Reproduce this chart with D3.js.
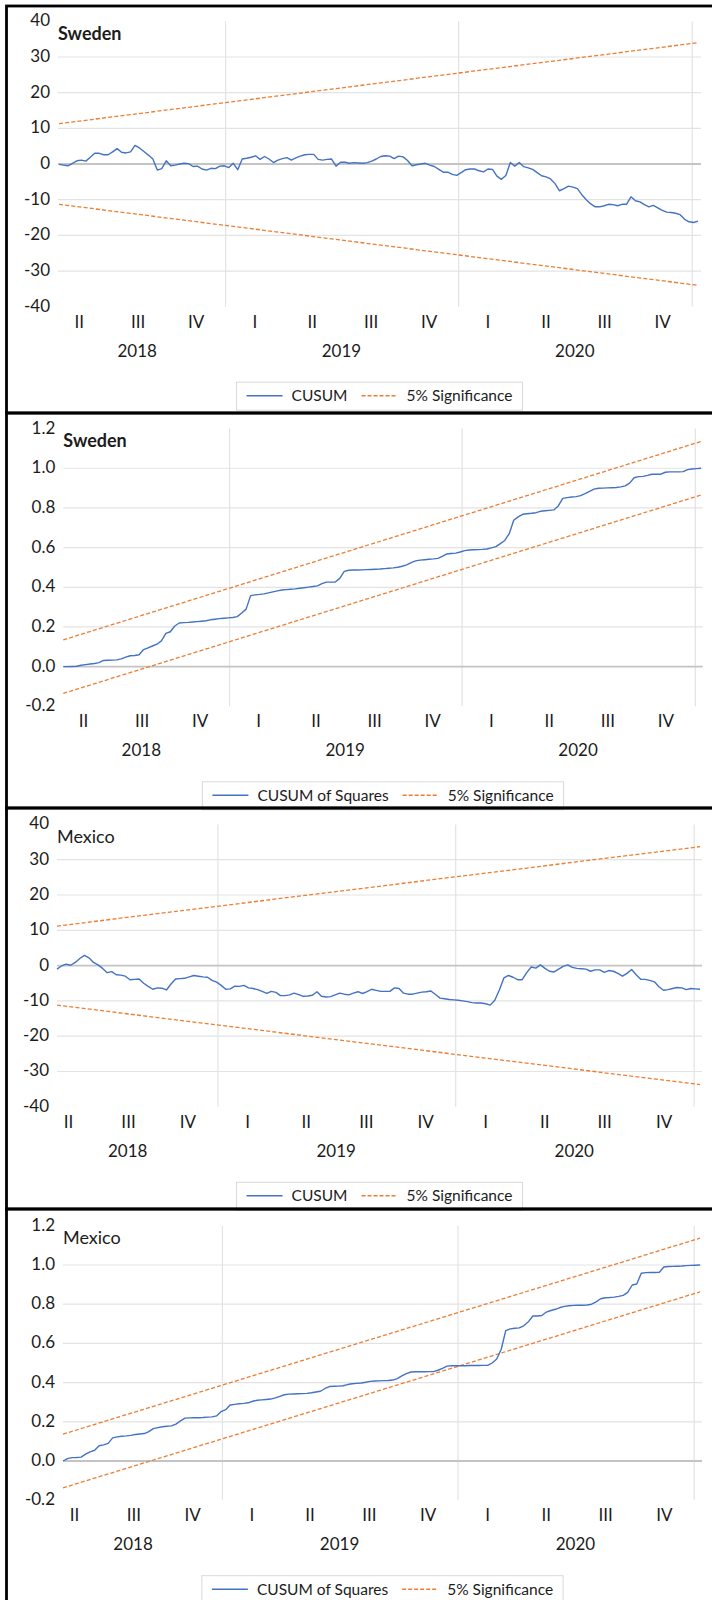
<!DOCTYPE html>
<html>
<head>
<meta charset="utf-8">
<script src="https://cdn.jsdelivr.net/npm/d3@7"></script>
<style>
  body { margin: 0; background: #fff; }
  svg { display: block; }
  text { font-family: Lato, "Open Sans", "Noto Sans", sans-serif; fill: #1c1c1c; }
</style>
</head>
<body>
<svg id="chart" width="712" height="1600"></svg>
<script>
// ---- Weekly recursive-residual stability tests, Sweden and Mexico ----

// First weekly observation of each country's sample
const swedenStart = "2018-04-15";
const mexicoStart = "2018-04-29";

// Quarter labels (placed mid-quarter) and year labels of the category axis
const quarterLabels = ["II", "III", "IV", "I", "II", "III", "IV", "I", "II", "III", "IV"];
const quarterDates = ["2018-05-16", "2018-08-16", "2018-11-15", "2019-02-15", "2019-05-16", "2019-08-16",
                      "2019-11-15", "2020-02-15", "2020-05-16", "2020-08-16", "2020-11-15"];
const yearLabels = ["2018", "2019", "2020"];
const yearBoundaries = ["2019-01-01", "2020-01-01", "2021-01-01"];

// Value-axis ticks
const cusumTicks = [40, 30, 20, 10, 0, -10, -20, -30, -40];
const cusumSqTicks = [1.2, 1.0, 0.8, 0.6, 0.4, 0.2, 0.0, -0.2];

// Sweden: CUSUM of recursive residuals
const swedenCusum = [
  -0.1, -0.3, -0.5, 0.2, 0.9, 1.1, 0.8, 1.9, 3.0, 3.0,
  2.6, 2.6, 3.4, 4.3, 3.3, 3.1, 3.4, 5.2, 4.5, 3.5,
  2.5, 1.4, -1.7, -1.3, 0.9, -0.5, -0.3, 0.0, 0.2, 0.1,
  -0.7, -0.6, -1.4, -1.7, -1.2, -1.3, -0.6, -0.5, -1.0, 0.2,
  -1.6, 1.4, 1.6, 1.9, 2.3, 1.3, 2.1, 1.4, 0.4, 1.1,
  1.5, 1.8, 1.1, 1.7, 2.2, 2.6, 2.7, 2.7, 1.3, 1.1,
  1.3, 1.4, -0.6, 0.5, 0.5, 0.2, 0.4, 0.3, 0.2, 0.4,
  0.8, 1.4, 2.1, 2.3, 2.2, 1.5, 2.2, 2.0, 1.0, -0.5,
  -0.2, 0.0, 0.2, -0.3, -0.7, -1.5, -2.3, -2.3, -2.9, -3.2,
  -2.4, -1.6, -1.4, -1.4, -1.9, -2.2, -1.4, -1.5, -3.4, -4.3,
  -3.2, 0.4, -0.6, 0.4, -0.75, -1.1, -1.5, -2.4, -3.3, -3.6,
  -4.2, -5.5, -7.5, -6.9, -6.2, -6.5, -6.9, -8.6, -10.0, -11.2,
  -12.0, -12.0, -11.7, -11.3, -11.4, -11.7, -11.3, -11.3, -9.2, -10.3,
  -10.6, -11.4, -12.0, -11.6, -12.3, -13.0, -13.5, -13.6, -13.8, -14.2,
  -15.5, -16.2, -16.4, -16.0
];
const swedenCusumUpper = [11.3, 34.0];
const swedenCusumLower = [-11.3, -34.0];

// Sweden: CUSUM of squares
const swedenCusumSq = [
  0.000, 0.000, 0.001, 0.002, 0.007, 0.010, 0.013, 0.016, 0.020, 0.031,
  0.032, 0.033, 0.034, 0.039, 0.048, 0.055, 0.056, 0.060, 0.086, 0.095,
  0.104, 0.113, 0.130, 0.168, 0.176, 0.205, 0.220, 0.222, 0.223, 0.225,
  0.227, 0.229, 0.231, 0.236, 0.239, 0.242, 0.244, 0.246, 0.248, 0.252,
  0.270, 0.290, 0.358, 0.362, 0.364, 0.367, 0.372, 0.377, 0.382, 0.386,
  0.388, 0.390, 0.392, 0.395, 0.398, 0.401, 0.404, 0.407, 0.418, 0.426,
  0.426, 0.427, 0.445, 0.480, 0.486, 0.487, 0.487, 0.488, 0.489, 0.490,
  0.491, 0.492, 0.494, 0.496, 0.498, 0.501, 0.506, 0.513, 0.524, 0.533,
  0.537, 0.539, 0.541, 0.543, 0.546, 0.556, 0.568, 0.570, 0.572, 0.578,
  0.585, 0.588, 0.589, 0.590, 0.591, 0.593, 0.599, 0.605, 0.620, 0.636,
  0.670, 0.738, 0.755, 0.768, 0.771, 0.773, 0.776, 0.783, 0.786, 0.788,
  0.790, 0.810, 0.848, 0.852, 0.855, 0.857, 0.862, 0.872, 0.884, 0.895,
  0.899, 0.900, 0.901, 0.902, 0.903, 0.906, 0.911, 0.925, 0.952, 0.958,
  0.959, 0.964, 0.970, 0.970, 0.970, 0.980, 0.982, 0.982, 0.982, 0.983,
  0.993, 0.996, 0.998, 1.000
];
const swedenSqUpper = [0.135, 1.135];
const swedenSqLower = [-0.135, 0.865];

// Mexico: CUSUM of recursive residuals
const mexicoCusum = [
  -1.0, -0.1, 0.4, 0.1, 0.9, 2.0, 2.9, 2.2, 0.9, 0.2,
  -0.8, -2.0, -1.7, -2.6, -2.7, -3.0, -4.0, -3.9, -3.8, -5.0,
  -5.9, -6.7, -6.3, -6.4, -6.9, -5.2, -3.8, -3.7, -3.6, -3.2,
  -2.8, -3.0, -3.2, -3.3, -4.2, -4.7, -5.6, -6.7, -6.6, -5.8,
  -5.9, -5.6, -6.3, -6.5, -6.8, -7.3, -7.9, -7.3, -7.6, -8.5,
  -8.5, -8.3, -7.8, -8.2, -8.7, -8.6, -8.4, -7.4, -8.7, -8.9,
  -8.8, -8.3, -7.8, -8.1, -8.3, -7.8, -7.4, -7.9, -7.4, -6.7,
  -7.0, -7.3, -7.3, -7.3, -6.3, -6.5, -7.8, -8.1, -8.1, -7.8,
  -7.5, -7.4, -7.2, -8.2, -9.2, -9.4, -9.6, -9.7, -9.8, -10.0,
  -10.2, -10.5, -10.6, -10.6, -10.8, -11.2, -9.8, -6.9, -3.5, -2.8,
  -3.3, -4.0, -4.0, -2.0, -0.4, -0.7, 0.2, -0.8, -1.6, -1.8,
  -1.0, -0.2, 0.2, -0.5, -0.8, -0.9, -1.0, -1.6, -1.2, -1.2,
  -1.9, -1.4, -1.6, -2.2, -3.0, -2.2, -1.1, -2.6, -3.9, -3.9,
  -4.2, -4.6, -6.0, -7.0, -6.8, -6.5, -6.2, -6.3, -6.8, -6.5,
  -6.6, -6.7
];
const mexicoCusumUpper = [11.2, 33.7];
const mexicoCusumLower = [-11.2, -33.7];

// Mexico: CUSUM of squares
const mexicoCusumSq = [
  0.000, 0.012, 0.017, 0.018, 0.020, 0.035, 0.047, 0.055, 0.078, 0.082,
  0.090, 0.118, 0.123, 0.126, 0.128, 0.131, 0.135, 0.138, 0.140, 0.150,
  0.165, 0.170, 0.175, 0.177, 0.179, 0.188, 0.205, 0.219, 0.220, 0.221,
  0.221, 0.222, 0.224, 0.225, 0.230, 0.252, 0.262, 0.286, 0.289, 0.292,
  0.294, 0.297, 0.305, 0.310, 0.312, 0.314, 0.316, 0.322, 0.330, 0.338,
  0.341, 0.342, 0.343, 0.344, 0.345, 0.348, 0.352, 0.356, 0.370, 0.380,
  0.381, 0.382, 0.384, 0.390, 0.394, 0.396, 0.398, 0.402, 0.406, 0.408,
  0.409, 0.410, 0.411, 0.413, 0.420, 0.434, 0.446, 0.454, 0.455, 0.455,
  0.455, 0.456, 0.456, 0.463, 0.473, 0.484, 0.486, 0.486, 0.486, 0.486,
  0.487, 0.487, 0.487, 0.488, 0.488, 0.500, 0.520, 0.570, 0.665, 0.674,
  0.677, 0.679, 0.690, 0.710, 0.740, 0.740, 0.742, 0.760, 0.768, 0.774,
  0.783, 0.789, 0.792, 0.794, 0.795, 0.795, 0.796, 0.800, 0.812, 0.828,
  0.833, 0.834, 0.836, 0.840, 0.845, 0.860, 0.898, 0.903, 0.958, 0.961,
  0.962, 0.962, 0.963, 0.990, 0.992, 0.993, 0.994, 0.995, 0.997, 0.998,
  0.999, 1.000
];
const mexicoSqUpper = [0.137, 1.137];
const mexicoSqLower = [-0.137, 0.863];

// ---- Layout and styling ----
const COLORS = { series: "#4472c4", bound: "#ed7d31", grid: "#e3e3e3", zero: "#c4c4c4", frame: "#000" };
const FONT = { axis: 17, legend: 15.5, title: 18 };

const locale = d3.formatLocale({ decimal: ".", thousands: ",", grouping: [3], currency: ["", ""], minus: "-" });
const fmtInt = locale.format("d");
const fmtOne = locale.format(".1f");
const parseDate = d3.timeParse("%Y-%m-%d");

const panels = [
  { title: "Sweden", bold: true, start: swedenStart, values: swedenCusum,
    upper: swedenCusumUpper, lower: swedenCusumLower, ticks: cusumTicks, domain: [-40, 40], fmt: fmtInt,
    legend: ["CUSUM", "5% Significance"],
    frame: [6, 413], plotX: [58, 701], lineX: [59, 698], plotY: [21.3, 306.7] },
  { title: "Sweden", bold: true, start: swedenStart, values: swedenCusumSq,
    upper: swedenSqUpper, lower: swedenSqLower, ticks: cusumSqTicks, domain: [-0.2, 1.2], fmt: fmtOne,
    legend: ["CUSUM of Squares", "5% Significance"],
    frame: [413, 808], plotX: [63.3, 702.7], lineX: [63.3, 701], plotY: [428.6, 706.3] },
  { title: "Mexico", bold: false, start: mexicoStart, values: mexicoCusum,
    upper: mexicoCusumUpper, lower: mexicoCusumLower, ticks: cusumTicks, domain: [-40, 40], fmt: fmtInt,
    legend: ["CUSUM", "5% Significance"],
    frame: [808, 1209], plotX: [57, 702], lineX: [57, 700], plotY: [824.4, 1106.8] },
  { title: "Mexico", bold: false, start: mexicoStart, values: mexicoCusumSq,
    upper: mexicoSqUpper, lower: mexicoSqLower, ticks: cusumSqTicks, domain: [-0.2, 1.2], fmt: fmtOne,
    legend: ["CUSUM of Squares", "5% Significance"],
    frame: [1209, 1604], plotX: [63, 702], lineX: [63, 700], plotY: [1225.8, 1500.2] }
];

const svg = d3.select("#chart");
svg.append("rect").attr("width", 712).attr("height", 1600).attr("fill", "#fff");

panels.forEach(drawPanel);

function drawPanel(p) {
  const g = svg.append("g");
  const start = parseDate(p.start);
  const data = p.values.map((v, i) => ({ date: d3.timeWeek.offset(start, i), value: v }));
  const first = data[0].date, last = data[data.length - 1].date;

  const x = d3.scaleTime().domain([first, last]).range(p.lineX);
  const y = d3.scaleLinear().domain(p.domain).range([p.plotY[1], p.plotY[0]]);
  const [left, right] = p.plotX;
  const [top, bottom] = p.plotY;

  // Horizontal gridlines (inner ticks only, zero drawn separately)
  const inner = p.ticks.filter(t => t !== p.domain[0] && t !== p.domain[1] && Math.abs(t) > 1e-9);
  g.append("g").selectAll("line").data(inner).join("line")
    .attr("x1", left).attr("x2", right)
    .attr("y1", d => y(d)).attr("y2", d => y(d))
    .attr("stroke", COLORS.grid).attr("stroke-width", 1.2);

  // Vertical gridlines at year boundaries
  g.append("g").selectAll("line").data(yearBoundaries.map(parseDate)).join("line")
    .attr("x1", d => x(d)).attr("x2", d => x(d))
    .attr("y1", top).attr("y2", bottom)
    .attr("stroke", COLORS.grid).attr("stroke-width", 1.2);

  // Zero line
  g.append("line").attr("x1", left).attr("x2", right)
    .attr("y1", y(0)).attr("y2", y(0))
    .attr("stroke", COLORS.zero).attr("stroke-width", 1.8);

  // Value axis labels
  const yAxis = d3.axisLeft(y).tickValues(p.ticks).tickFormat(p.fmt).tickSize(0).tickPadding(8);
  const ya = g.append("g").attr("transform", `translate(${left},0)`).call(yAxis);
  ya.select(".domain").remove();
  ya.selectAll("text").attr("font-size", FONT.axis).attr("font-family", null).attr("dy", "0.26em");

  // Quarter labels
  const xAxis = d3.axisBottom(x).tickValues(quarterDates.map(parseDate))
    .tickFormat((d, i) => quarterLabels[i]).tickSize(0).tickPadding(0);
  const xa = g.append("g").attr("transform", `translate(0,${bottom})`).call(xAxis);
  xa.select(".domain").remove();
  xa.selectAll("text").attr("font-size", FONT.axis).attr("font-family", null)
    .attr("y", 15).attr("dy", "0.36em");

  // Year labels, centred over their quarter labels
  const yearPos = yearLabels.map(yr => {
    const xs = quarterDates.filter(q => q.startsWith(yr)).map(q => x(parseDate(q)));
    return { label: yr, x: (d3.min(xs) + d3.max(xs)) / 2 };
  });
  g.append("g").selectAll("text").data(yearPos).join("text")
    .attr("x", d => d.x).attr("y", bottom + 44).attr("dy", "0.36em")
    .attr("text-anchor", "middle").attr("font-size", FONT.axis).text(d => d.label);

  // 5% significance bounds
  const line = d3.line().x(d => x(d.date)).y(d => y(d.value));
  [p.upper, p.lower].forEach(b => {
    g.append("path")
      .datum([{ date: first, value: b[0] }, { date: last, value: b[1] }])
      .attr("d", line).attr("fill", "none")
      .attr("stroke", COLORS.bound).attr("stroke-width", 1.3).attr("stroke-dasharray", "4,2.2");
  });

  // Test statistic
  g.append("path").datum(data).attr("d", line).attr("fill", "none")
    .attr("stroke", COLORS.series).attr("stroke-width", 1.4).attr("stroke-linejoin", "round");

  // Country title
  g.append("text").attr("x", left).attr("y", top + 12).attr("dy", "0.36em")
    .attr("font-size", FONT.title).attr("font-weight", p.bold ? 700 : 400).text(p.title);

  // Legend
  const lg = g.append("g");
  const box = lg.append("rect").attr("fill", "#fff").attr("stroke", "#d9d9d9").attr("stroke-width", 1);
  const cy = bottom + 89;
  const styles = [{ color: COLORS.series, dash: null }, { color: COLORS.bound, dash: "4,2" }];
  let cx = 10;
  const items = p.legend.map((label, i) => {
    const sample = lg.append("line").attr("y1", cy).attr("y2", cy)
      .attr("stroke", styles[i].color).attr("stroke-width", 1.4)
      .attr("stroke-dasharray", styles[i].dash);
    const txt = lg.append("text").attr("y", cy).attr("dy", "0.36em")
      .attr("font-size", FONT.legend).text(label);
    return { sample, txt };
  });
  const pos = [];
  items.forEach((it, i) => {
    const w = it.txt.node().getComputedTextLength();
    pos.push({ s: cx, t: cx + 45, w });
    cx += 45 + w + (i === 0 ? 14 : 10);
  });
  const totalW = cx;
  const bx = (left + right) / 2 - totalW / 2;
  items.forEach((it, i) => {
    it.sample.attr("x1", bx + pos[i].s).attr("x2", bx + pos[i].s + 36);
    it.txt.attr("x", bx + pos[i].t);
  });
  box.attr("x", bx).attr("y", bottom + 75.5).attr("width", totalW).attr("height", 28);

  // Panel frame
  g.append("rect").attr("x", 6.5).attr("y", p.frame[0])
    .attr("width", 712).attr("height", p.frame[1] - p.frame[0])
    .attr("fill", "none").attr("stroke", COLORS.frame).attr("stroke-width", 2.8);
}
</script>
</body>
</html>
